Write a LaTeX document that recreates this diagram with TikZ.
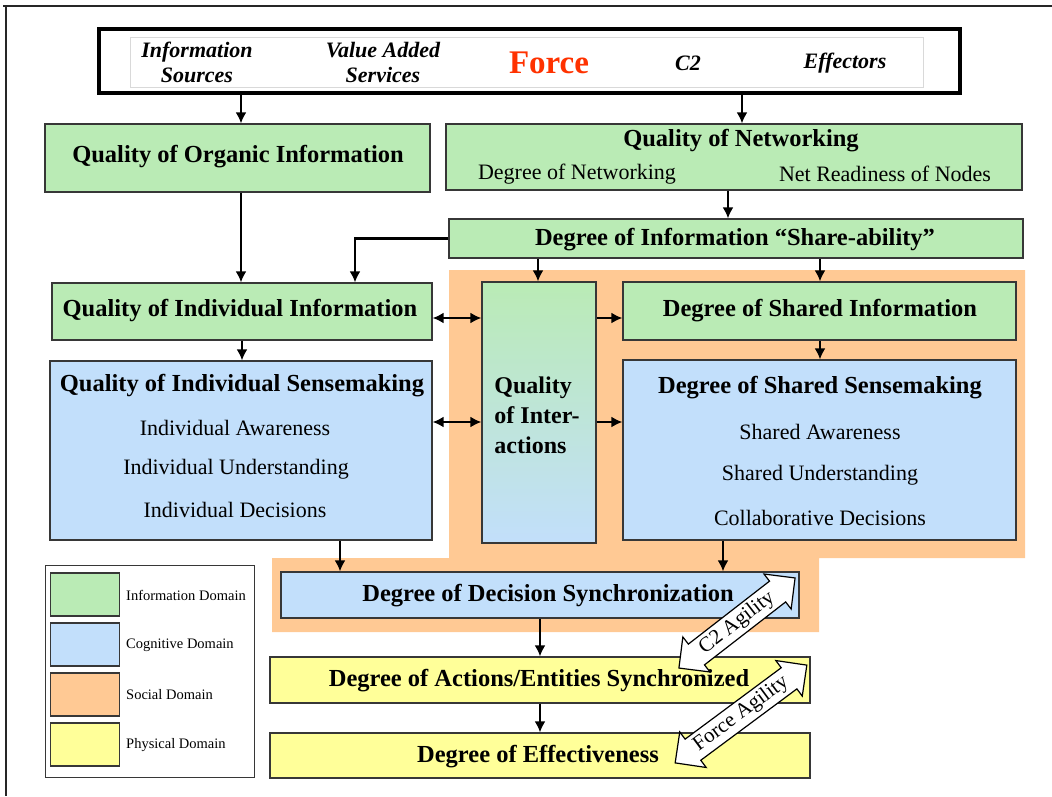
\documentclass[tikz,border=0pt]{standalone}
\usepackage{fontspec}
\setmainfont{Liberation Serif}
\usetikzlibrary{arrows.meta,shapes.arrows}
\definecolor{infog}{RGB}{186,235,181}
\definecolor{cogb}{RGB}{194,223,251}
\definecolor{soco}{RGB}{255,201,148}
\definecolor{phyy}{RGB}{255,255,153}
\definecolor{edgec}{RGB}{55,55,55}
\definecolor{forcered}{RGB}{255,50,0}
\begin{document}
\begin{tikzpicture}[x=1pt,y=-1pt,
  box/.style={draw=edgec, line width=1.2pt, inner sep=0pt},
  gbox/.style={box, fill=infog},
  bbox/.style={box, fill=cogb},
  ybox/.style={box, fill=phyy},
  btxt/.style={font=\fontsize{24.5}{29}\selectfont\bfseries, inner sep=0pt},
  ntxt/.style={font=\fontsize{22}{26}\selectfont, inner sep=0pt},
  ttxt/.style={font=\fontsize{22}{25}\selectfont\bfseries\itshape, inner sep=0pt, align=center},
  ltxt/.style={font=\fontsize{14.5}{17}\selectfont, inner sep=0pt, anchor=west},
  arr/.style={-{Latex[length=11pt,width=11pt]}, line width=2.8pt},
  darr/.style={{Latex[length=11pt,width=11pt]}-{Latex[length=11pt,width=11pt]}, line width=2.8pt},
  agil/.style={double arrow, draw=black, line width=1.2pt, fill=white, inner xsep=2pt, inner ysep=3pt,
    double arrow head extend=9pt, font=\fontsize{21}{24}\selectfont},
]
\useasboundingbox (0,0) rectangle (1052,796);
% outer frame (top and left)
\draw[line width=2pt, black!85] (3,6) -- (1052,6);
\draw[line width=2pt, black!85] (6,6) -- (6,796);

% social domain region
\fill[soco] (449,270) -- (1025,270) -- (1025,558) -- (819,558) -- (819,632)
  -- (272,632) -- (272,558) -- (449,558) -- cycle;

% top box
\node[draw=black, line width=4.5pt, minimum width=861, minimum height=64, inner sep=0pt] (top) at (529.5,61) {};
\draw[black!15, line width=0.8pt] (130,37) rectangle (923,87);
\node[ttxt] (src) at (197,62) {Information\\Sources};
\node[ttxt] (vas) at (383,62) {Value Added\\Services};
\node[font=\fontsize{33}{36}\selectfont\bfseries, text=forcered, inner sep=0pt] (force) at (549,63) {Force};
\node[ttxt] (c2) at (688,63) {C2};
\node[ttxt] (eff) at (845,63) {Effectors};

% information domain boxes
\node[gbox, minimum width=385, minimum height=68] (org) at (237.5,158) {};
\node[btxt] (orgt) at (238,157) {Quality of Organic Information};

\node[gbox, minimum width=576, minimum height=66] (net) at (734,157) {};
\node[btxt] (nett) at (741,141) {Quality of Networking};
\node[ntxt] (dnet) at (577,174) {Degree of Networking};
\node[ntxt] (nrn) at (885,174) {Net Readiness of Nodes};

\node[gbox, minimum width=574, minimum height=39] (share) at (736,238.5) {};
\node[btxt] (sharet) at (735,240) {Degree of Information “Share-ability”};

\node[gbox, minimum width=380, minimum height=57] (indinfo) at (242,311.5) {};
\node[btxt] (indinfot) at (240,311) {Quality of Individual Information};

\node[bbox, minimum width=382, minimum height=179] (indsense) at (241,450.5) {};
\node[btxt] (indsenset) at (242,386) {Quality of Individual Sensemaking};
\node[ntxt] (ia) at (235,428) {Individual Awareness};
\node[ntxt] (iu) at (236,469) {Individual Understanding};
\node[ntxt] (id) at (235,510) {Individual Decisions};

\node[box, top color=infog, bottom color=cogb, minimum width=114, minimum height=261] (inter) at (539,412.5) {};
\node[btxt, align=left, font=\fontsize{24}{30}\selectfont\bfseries] (intert) at (537,415) {Quality\\of Inter-\\actions};

\node[gbox, minimum width=393, minimum height=58] (shinfo) at (819.5,311) {};
\node[btxt] (shinfot) at (820,311) {Degree of Shared Information};

\node[bbox, minimum width=393, minimum height=180] (shsense) at (819.5,450) {};
\node[btxt] (shsenset) at (820,388) {Degree of Shared Sensemaking};
\node[ntxt] (sa) at (820,432) {Shared Awareness};
\node[ntxt] (su) at (820,475) {Shared Understanding};
\node[ntxt] (cd) at (820,518) {Collaborative Decisions};

\node[bbox, minimum width=518, minimum height=46] (dsync) at (540,595) {};
\node[btxt] (dsynct) at (548,596) {Degree of Decision Synchronization};

\node[ybox, minimum width=540, minimum height=46] (act) at (540,680) {};
\node[btxt] (actt) at (539,681) {Degree of Actions/Entities Synchronized};

\node[ybox, minimum width=540, minimum height=45] (effn) at (540,755.5) {};
\node[btxt] (efft) at (538,757) {Degree of Effectiveness};

% connectors
\draw[arr] (241,0 |- top.south) -- (241,0 |- org.north);
\draw[arr] (742,0 |- top.south) -- (742,0 |- net.north);
\draw[arr] (728,0 |- net.south) -- (728,0 |- share.north);
\draw[arr] (241,0 |- org.south) -- (241,0 |- indinfo.north);
\draw[arr] (share.west) -- (355,0 |- share.west) -- (355,0 |- indinfo.north);
\draw[arr] (538,0 |- share.south) -- (538,0 |- inter.north);
\draw[arr] (820,0 |- share.south) -- (820,0 |- shinfo.north);
\draw[darr] (indinfo.east |- 0,318) -- (inter.west |- 0,318);
\draw[darr] (indsense.east |- 0,422) -- (inter.west |- 0,422);
\draw[arr] (inter.east |- 0,318) -- (shinfo.west |- 0,318);
\draw[arr] (inter.east |- 0,422) -- (shsense.west |- 0,422);
\draw[arr] (242,0 |- indinfo.south) -- (242,0 |- indsense.north);
\draw[arr] (820,0 |- shinfo.south) -- (820,0 |- shsense.north);
\draw[arr] (340,0 |- indsense.south) -- (340,0 |- dsync.north);
\draw[arr] (723,0 |- shsense.south) -- (723,0 |- dsync.north);
\draw[arr] (540,0 |- dsync.south) -- (540,0 |- act.north);
\draw[arr] (540,0 |- act.south) -- (540,0 |- effn.north);

% agility arrows
\node[agil, rotate=37.8, minimum height=147] (c2ag) at (737,623) {C2 Agility};
\node[agil, rotate=36.6, minimum height=164] (fag) at (741,714) {Force Agility};

% legend
\node[draw=edgec, line width=1pt, fill=white, minimum width=209, minimum height=212, inner sep=0pt] (leg) at (149.5,671) {};
\node[gbox, minimum width=69, minimum height=43] (lg) at (85,594.5) {};
\node[bbox, minimum width=69, minimum height=43] (lb) at (85,644.5) {};
\node[box, fill=soco, minimum width=69, minimum height=43] (lo) at (85,694.5) {};
\node[ybox, minimum width=69, minimum height=43] (ly) at (85,744.5) {};
\node[ltxt] (lgt) at (126,595) {Information Domain};
\node[ltxt] (lbt) at (126,645) {Cognitive Domain};
\node[ltxt] (lot) at (126,695) {Social Domain};
\node[ltxt] (lyt) at (126,745) {Physical Domain};
\end{tikzpicture}
\end{document}
